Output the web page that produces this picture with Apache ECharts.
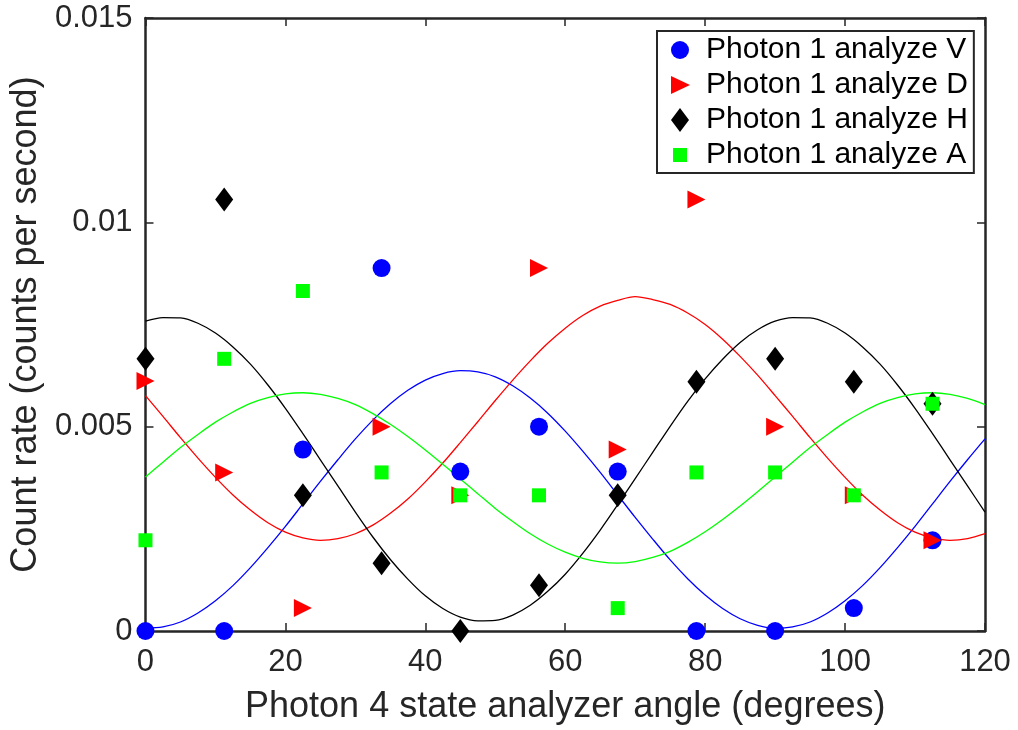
<!DOCTYPE html>
<html>
<head>
<meta charset="utf-8">
<script src="https://cdn.jsdelivr.net/npm/echarts@6/dist/echarts.min.js"></script>
<style>
  html, body { margin: 0; padding: 0; background: #fff; }
  #chart { width: 1018px; height: 730px; }
</style>
</head>
<body>
<div id="chart"></div>
<script>
// measured angles (degrees)
const angles = [0, 11.25, 22.5, 33.75, 45, 56.25, 67.5, 78.75, 90, 101.25, 112.5];
const rateV = [0, 0, 0.00444, 0.00888, 0.0039, 0.005, 0.0039, 0, 0, 0.00056, 0.00222];
const rateD = [0.00612, 0.00388, 0.00056, 0.005, 0.00332, 0.00888, 0.00444, 0.01056, 0.005, 0.00332, 0.00222];
const rateH = [0.00666, 0.01056, 0.00332, 0.00166, 0, 0.00112, 0.00332, 0.0061, 0.00666, 0.0061, 0.00556];
const rateA = [0.00222, 0.00666, 0.00832, 0.00388, 0.00332, 0.00332, 0.00056, 0.00388, 0.00388, 0.00332, 0.00556];

// fit curves, every 2.5 degrees
const fitAngles = [0, 2.5, 5, 7.5, 10, 12.5, 15, 17.5, 20, 22.5, 25, 27.5, 30, 32.5, 35, 37.5, 40, 42.5, 45, 47.5,
  50, 52.5, 55, 57.5, 60, 62.5, 65, 67.5, 70, 72.5, 75, 77.5, 80, 82.5, 85, 87.5, 90, 92.5, 95, 97.5,
  100, 102.5, 105, 107.5, 110, 112.5, 115, 117.5, 120];
const fitV = [0.00007, 0.0001, 0.00022, 0.00044, 0.00074, 0.00111, 0.00155, 0.00204, 0.00256, 0.00311, 0.00366, 0.00419,
  0.0047, 0.00516, 0.00556, 0.00589, 0.00614, 0.0063, 0.00637, 0.00634, 0.00622, 0.006, 0.0057, 0.00533, 0.00489,
  0.0044, 0.00388, 0.00333, 0.00278, 0.00225, 0.00174, 0.00128, 0.00088, 0.00055, 0.0003, 0.00014, 0.00007, 0.0001,
  0.00022, 0.00044, 0.00074, 0.00111, 0.00155, 0.00204, 0.00256, 0.00311, 0.00366, 0.00419, 0.0047];
const fitD = [0.00576, 0.00525, 0.00473, 0.00423, 0.00376, 0.00333, 0.00296, 0.00265, 0.00242, 0.00228, 0.00222, 0.00226,
  0.00238, 0.00259, 0.00288, 0.00323, 0.00365, 0.00411, 0.00461, 0.00512, 0.00564, 0.00614, 0.00661, 0.00704, 0.00741,
  0.00772, 0.00795, 0.00809, 0.00818, 0.00811, 0.00799, 0.00778, 0.0075, 0.00714, 0.00672, 0.00626, 0.00576, 0.00525,
  0.00473, 0.00423, 0.00376, 0.00333, 0.00296, 0.00265, 0.00242, 0.00228, 0.00222, 0.00226, 0.00238];
const fitH = [0.00758, 0.00767, 0.00766, 0.00753, 0.00729, 0.00695, 0.00653, 0.00602, 0.00545, 0.00483, 0.00419, 0.00355,
  0.00291, 0.0023, 0.00175, 0.00127, 0.00086, 0.00055, 0.00034, 0.00025, 0.00026, 0.00039, 0.00063, 0.00097, 0.00139,
  0.0019, 0.00247, 0.00309, 0.00373, 0.00437, 0.00501, 0.00562, 0.00617, 0.00665, 0.00706, 0.00737, 0.00758, 0.00767,
  0.00766, 0.00753, 0.00729, 0.00695, 0.00653, 0.00602, 0.00545, 0.00483, 0.00419, 0.00355, 0.00291];
const fitA = [0.00377, 0.00413, 0.00449, 0.00481, 0.00511, 0.00536, 0.00557, 0.00571, 0.0058, 0.00583, 0.00579, 0.00569,
  0.00554, 0.00532, 0.00506, 0.00476, 0.00443, 0.00408, 0.00372, 0.00336, 0.003, 0.00268, 0.00238, 0.00213, 0.00193,
  0.00178, 0.00169, 0.00166, 0.0017, 0.0018, 0.00195, 0.00217, 0.00243, 0.00273, 0.00306, 0.00341, 0.00377, 0.00413,
  0.00449, 0.00481, 0.00511, 0.00536, 0.00557, 0.00571, 0.0058, 0.00583, 0.00579, 0.00569, 0.00554];

const names = ['Photon 1 analyze V', 'Photon 1 analyze D', 'Photon 1 analyze H', 'Photon 1 analyze A'];
const colors = ['#0000ff', '#ff0000', '#000000', '#00ff00'];

const axisColor = '#262626';
const font = 'Liberation Sans, Arial, sans-serif';

// marker shapes, all inside an 18x24 box so one symbolSize fits them
const markers = [
  'path://M0,0M18,24M0,12A9,9 0 1 1 18,12A9,9 0 1 1 0,12Z',
  'path://M0,0M18,24M0,3L18,12L0,21Z',
  'path://M9,0.5L18,12L9,23.5L0,12Z',
  'path://M0,0M18,24M2,5L16,5L16,19L2,19Z'
];
// legend icons: same shapes, left part of a 30x24 box (adds room before the text)
const legendIcons = [
  'path://M0,0M30,24M0,12A9,9 0 1 1 18,12A9,9 0 1 1 0,12Z',
  'path://M0,0M30,24M0,3L19,12L0,21Z',
  'path://M0,0M30,24M9,0L18,12L9,24L0,12Z',
  'path://M0,0M30,24M2,5L16,5L16,19L2,19Z'
];

function pairs(xs, ys) {
  return xs.map((x, i) => [x, ys[i]]);
}

function fitLine(ys, color) {
  return {
    type: 'line',
    data: pairs(fitAngles, ys),
    smooth: 0.3,
    symbol: 'none',
    silent: true,
    lineStyle: { color: color, width: 1.3 },
    z: 2
  };
}

function dots(i, ys) {
  return {
    type: 'scatter',
    name: names[i],
    data: pairs(angles, ys),
    symbol: markers[i],
    symbolSize: [18, 24],
    itemStyle: { color: colors[i], opacity: 1 },
    z: 3
  };
}

const chart = echarts.init(document.getElementById('chart'));

const option = {
  animation: false,
  backgroundColor: '#fff',
  grid: { left: 143, right: 33, top: 18, bottom: 97 },
  legend: {
    data: names.map((n, i) => ({ name: n, icon: legendIcons[i] })),
    orient: 'vertical',
    left: 657,
    top: 31,
    padding: [2, 6, 1, 14],
    itemGap: 1,
    itemWidth: 30,
    itemHeight: 24,
    backgroundColor: '#fff',
    borderColor: axisColor,
    borderWidth: 2,
    borderRadius: 0,
    textStyle: { fontFamily: font, fontSize: 30, lineHeight: 34, color: '#000' }
  },
  xAxis: [{
    type: 'value',
    min: 0,
    max: 120,
    interval: 20,
    name: 'Photon 4 state analyzer angle (degrees)',
    nameLocation: 'middle',
    nameGap: 58,
    nameTextStyle: { fontFamily: font, fontSize: 36, color: axisColor },
    axisLine: { onZero: false, lineStyle: { color: axisColor, width: 2.5 } },
    axisTick: { inside: true, length: 8, lineStyle: { color: axisColor, width: 1.5 } },
    axisLabel: { fontFamily: font, fontSize: 31, color: axisColor, margin: 16 },
    splitLine: { show: false }
  }, {
    type: 'value',
    position: 'top',
    min: 0,
    max: 120,
    interval: 20,
    axisLine: { onZero: false, lineStyle: { color: axisColor, width: 2.5 } },
    axisTick: { inside: true, length: 8, lineStyle: { color: axisColor, width: 1.5 } },
    axisLabel: { show: false },
    splitLine: { show: false }
  }],
  yAxis: [{
    type: 'value',
    min: 0,
    max: 0.015,
    interval: 0.005,
    name: 'Count rate (counts per second)',
    nameLocation: 'middle',
    nameGap: 94,
    nameTextStyle: { fontFamily: font, fontSize: 36, color: axisColor },
    axisLine: { onZero: false, lineStyle: { color: axisColor, width: 2.5 } },
    axisTick: { inside: true, length: 8, lineStyle: { color: axisColor, width: 1.5 } },
    axisLabel: {
      fontFamily: font, fontSize: 31, color: axisColor, margin: 13,
      formatter: v => String(parseFloat(v.toFixed(3)))
    },
    splitLine: { show: false }
  }, {
    type: 'value',
    position: 'right',
    min: 0,
    max: 0.015,
    interval: 0.005,
    axisLine: { onZero: false, lineStyle: { color: axisColor, width: 2.5 } },
    axisTick: { inside: true, length: 8, lineStyle: { color: axisColor, width: 1.5 } },
    axisLabel: { show: false },
    splitLine: { show: false }
  }],
  series: [
    fitLine(fitV, colors[0]),
    fitLine(fitD, colors[1]),
    fitLine(fitH, colors[2]),
    fitLine(fitA, colors[3]),
    dots(0, rateV),
    dots(1, rateD),
    dots(2, rateH),
    dots(3, rateA)
  ]
};

chart.setOption(option);
</script>
</body>
</html>
